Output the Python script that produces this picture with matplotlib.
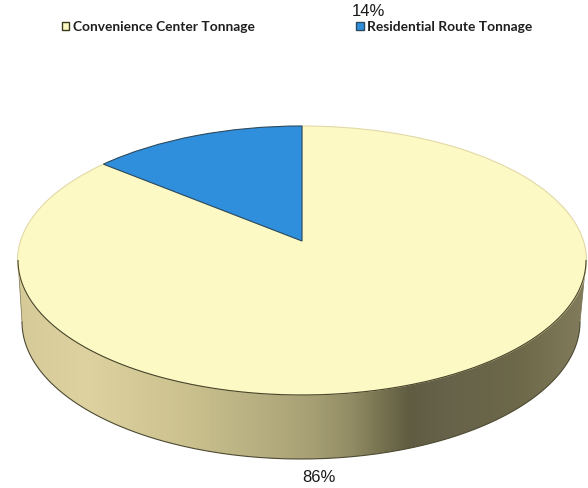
import numpy as np
import matplotlib
matplotlib.use("Agg")
import matplotlib.pyplot as plt
from matplotlib.colors import LinearSegmentedColormap
from matplotlib.patches import PathPatch
from matplotlib.path import Path
from matplotlib.transforms import Transform

# Data
pie_labels = ["Residential Route Tonnage", "Convenience Center Tonnage"]
pie_shares = [14, 86]
pie_colors = ["#2f8fdc", "#fdf9c4"]
legend_order = [1, 0]

W, H = 588, 488
APEX_X, APEX_Y = 302.0, 241.0
A, B, K = 281.5, 131.7, 0.145


class Perspective(Transform):
    """Tilted-disc projection of the unit pie into pixel-like data coordinates."""
    input_dims = output_dims = 2
    is_affine = False

    def transform_non_affine(self, values):
        v = np.asarray(values, dtype=float)
        w = 1 + K * v[:, 1]
        return np.column_stack([APEX_X + A * v[:, 0] / w, APEX_Y - B * v[:, 1] / w])


fig = plt.figure(figsize=(W / 100, H / 100), dpi=100, facecolor="white")
ax = fig.add_axes([0, 0, 1, 1])

wedges, _ = ax.pie(pie_shares, colors=pie_colors, startangle=90, counterclock=True,
                   wedgeprops=dict(linewidth=0.8, zorder=3))
for wedge in wedges:
    wedge.set_transform(Perspective() + ax.transData)
wedges[0].set_edgecolor("#2b4a5e")
wedges[0].set_zorder(4)
wedges[1].set_edgecolor("#e2d9a8")

# Side wall of the disc
TOP = dict(cx=302.0, cy=260.5, rx=284.0, ry=134.5)
BOT = dict(cx=301.0, cy=322.0, rx=279.0, ry=137.0)
theta = np.linspace(0, np.pi, 200)


def rim(e, th):
    return np.column_stack([e["cx"] + e["rx"] * np.cos(th), e["cy"] + e["ry"] * np.sin(th)])


wall = np.vstack([rim(TOP, theta), rim(BOT, theta[::-1])])
wall_cmap = LinearSegmentedColormap.from_list("wall", [
    (0.00, "#d6cb98"), (0.12, "#ddd2a0"), (0.30, "#cbc18e"), (0.45, "#b3ab7e"),
    (0.52, "#a69f74"), (0.59, "#918b64"), (0.64, "#77724f"), (0.69, "#5f5c42"),
    (0.75, "#66624a"), (0.88, "#6d6849"), (1.00, "#827c5c")])
grad = np.linspace(0, 1, 512).reshape(1, -1)
im = ax.imshow(grad, extent=(18, 586, 470, 255), cmap=wall_cmap, aspect="auto", zorder=1)
im.set_clip_path(PathPatch(Path(wall), transform=ax.transData))
outer = rim(BOT, theta)
inner = rim(TOP, theta)
ax.plot(outer[:, 0], outer[:, 1], color="#4d4a33", lw=0.8, zorder=2)
ax.plot(inner[:, 0], inner[:, 1], color="#47442a", lw=0.8, zorder=5)
ax.plot([TOP["cx"] + TOP["rx"], BOT["cx"] + BOT["rx"]], [TOP["cy"], BOT["cy"]], color="#77724f", lw=0.5, zorder=2)
ax.plot([TOP["cx"] - TOP["rx"], BOT["cx"] - BOT["rx"]], [TOP["cy"], BOT["cy"]], color="#77724f", lw=0.5, zorder=2)

ax.set_xlim(0, W)
ax.set_ylim(H, 0)
ax.set_aspect("auto")
ax.axis("off")

# Percent labels
ax.text(368, 12, f"{pie_shares[0]}%", ha="center", va="center", fontsize=12,
        family="Liberation Sans", color="#1a1a1a")
ax.text(319, 478, f"{pie_shares[1]}%", ha="center", va="center", fontsize=12,
        family="Liberation Sans", color="#1a1a1a")

# Legend
handles = [wedges[i] for i in legend_order]
labels = [pie_labels[i] for i in legend_order]
leg = ax.legend(handles, labels, ncol=2, loc="center left", bbox_to_anchor=(61.5 / W, 1 - 27 / H),
                frameon=False, handlelength=0.55, handleheight=0.55, handletextpad=0.28,
                columnspacing=7.36, borderpad=0, borderaxespad=0,
                prop=dict(family="Lato", weight="bold", size=9.9), labelcolor="#1f1f1f")
for patch, ec in zip(leg.get_patches(), ["#3a3a20", "#2b4a5e"]):
    patch.set_edgecolor(ec)
    patch.set_linewidth(1.0)

fig.savefig("out.png", dpi=100, facecolor="white")
